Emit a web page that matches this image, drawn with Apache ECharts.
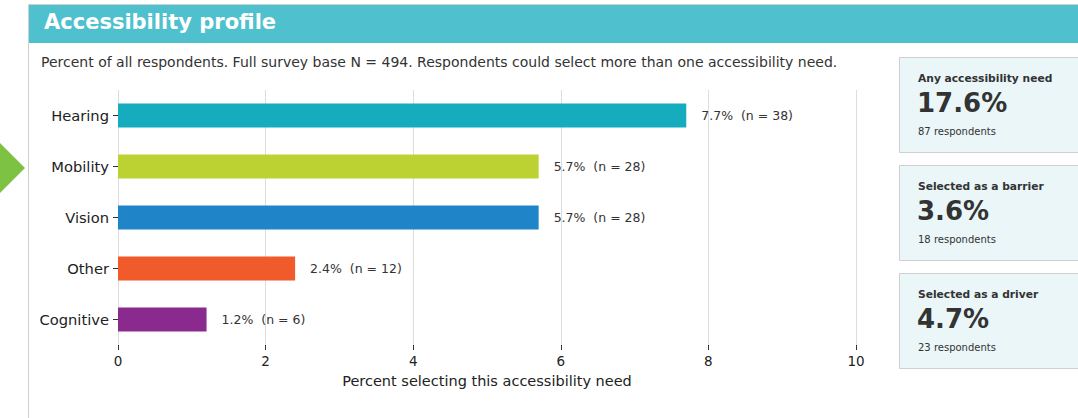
<!DOCTYPE html>
<html><head><meta charset="utf-8">
<script src="https://cdn.jsdelivr.net/npm/echarts@6/dist/echarts.min.js"></script>
<style>html,body{margin:0;padding:0;background:#fff;}#c{width:1078px;height:418px;}</style>
</head><body><div id="c"></div>
<script>
const categories = ['Hearing', 'Mobility', 'Vision', 'Other', 'Cognitive'];
const percents = [7.7, 5.7, 5.7, 2.4, 1.2];
const counts = [38, 28, 28, 12, 6];
const barColors = ['#15ADBD', '#BCD232', '#1F85C8', '#F15A2B', '#8B2A8E'];
const xTicks = [0, 2, 4, 6, 8, 10];
const cardTitles = ['Any accessibility need', 'Selected as a barrier', 'Selected as a driver'];
const cardValues = ['17.6%', '3.6%', '4.7%'];
const cardSubs = ['87 respondents', '18 respondents', '23 respondents'];
const titleText = 'Accessibility profile';
const subtitleText = 'Percent of all respondents. Full survey base N = 494. Respondents could select more than one accessibility need.';
const axisName = 'Percent selecting this accessibility need';

const FONT = '"DejaVu Sans", sans-serif';
const chart = echarts.init(document.getElementById('c'), null, {renderer: 'svg'});

const graphics = [
  {type: 'rect', shape: {x: 28.5, y: 4.5, width: 1100, height: 500}, style: {fill: '#fff', stroke: '#cfcfcf', lineWidth: 1}, z: -10},
  {type: 'rect', shape: {x: 29, y: 5, width: 1060, height: 38}, style: {fill: '#4FC0CE'}, z: -5},
  {type: 'text', x: 44, y: 22, style: {text: titleText, fill: '#fff', font: 'bold 21px ' + FONT, textVerticalAlign: 'middle'}},
  {type: 'text', x: 41, y: 62, style: {text: subtitleText, fill: '#333', font: '14px ' + FONT, textVerticalAlign: 'middle'}},
  {type: 'polygon', shape: {points: [[-10, 133], [25, 168], [-10, 203]]}, style: {fill: '#7DC243'}}
];
const cardTops = [57, 165, 273];
cardTops.forEach((t, i) => {
  graphics.push({type: 'rect', shape: {x: 899.5, y: t + 0.5, width: 200, height: 95}, style: {fill: '#EAF6F8', stroke: '#cfcfcf', lineWidth: 1}});
  graphics.push({type: 'text', x: 918, y: t + 21, style: {text: cardTitles[i], fill: '#333', font: 'bold 10.7px ' + FONT, textVerticalAlign: 'middle'}});
  graphics.push({type: 'text', x: 917, y: t + 46, style: {text: cardValues[i], fill: '#333', font: 'bold 26px ' + FONT, textVerticalAlign: 'middle'}});
  graphics.push({type: 'text', x: 918, y: t + 74, style: {text: cardSubs[i], fill: '#333', font: '10px ' + FONT, textVerticalAlign: 'middle'}});
});

chart.setOption({
  animation: false,
  textStyle: {fontFamily: FONT},
  graphic: graphics,
  grid: {left: 118, right: 222, top: 90, bottom: 73, containLabel: false},
  xAxis: {
    type: 'value', min: 0, max: 10, interval: 2,
    name: axisName, nameLocation: 'middle', nameGap: 28,
    nameTextStyle: {fontSize: 14.5, color: '#222', fontFamily: FONT},
    axisLine: {show: false},
    axisTick: {show: true, length: 5, lineStyle: {color: '#333'}},
    axisLabel: {fontSize: 13.5, color: '#222', margin: 9, fontFamily: FONT},
    splitLine: {show: true, lineStyle: {color: '#dddddd', width: 1}}
  },
  yAxis: {
    type: 'category', data: categories, inverse: true,
    axisLine: {show: false},
    axisTick: {show: true, length: 5, alignWithLabel: true, lineStyle: {color: '#333'}},
    axisLabel: {fontSize: 14.7, color: '#222', margin: 9, fontFamily: FONT},
    splitLine: {show: false}
  },
  series: [{
    type: 'bar', barWidth: 24,
    data: percents.map((v, i) => ({value: v, itemStyle: {color: barColors[i]}})),
    label: {
      show: true, position: 'right', distance: 15, fontSize: 12.5, color: '#333', fontFamily: FONT,
      formatter: p => p.value.toFixed(1) + '%  (n = ' + counts[p.dataIndex] + ')'
    }
  }]
});
</script></body></html>
